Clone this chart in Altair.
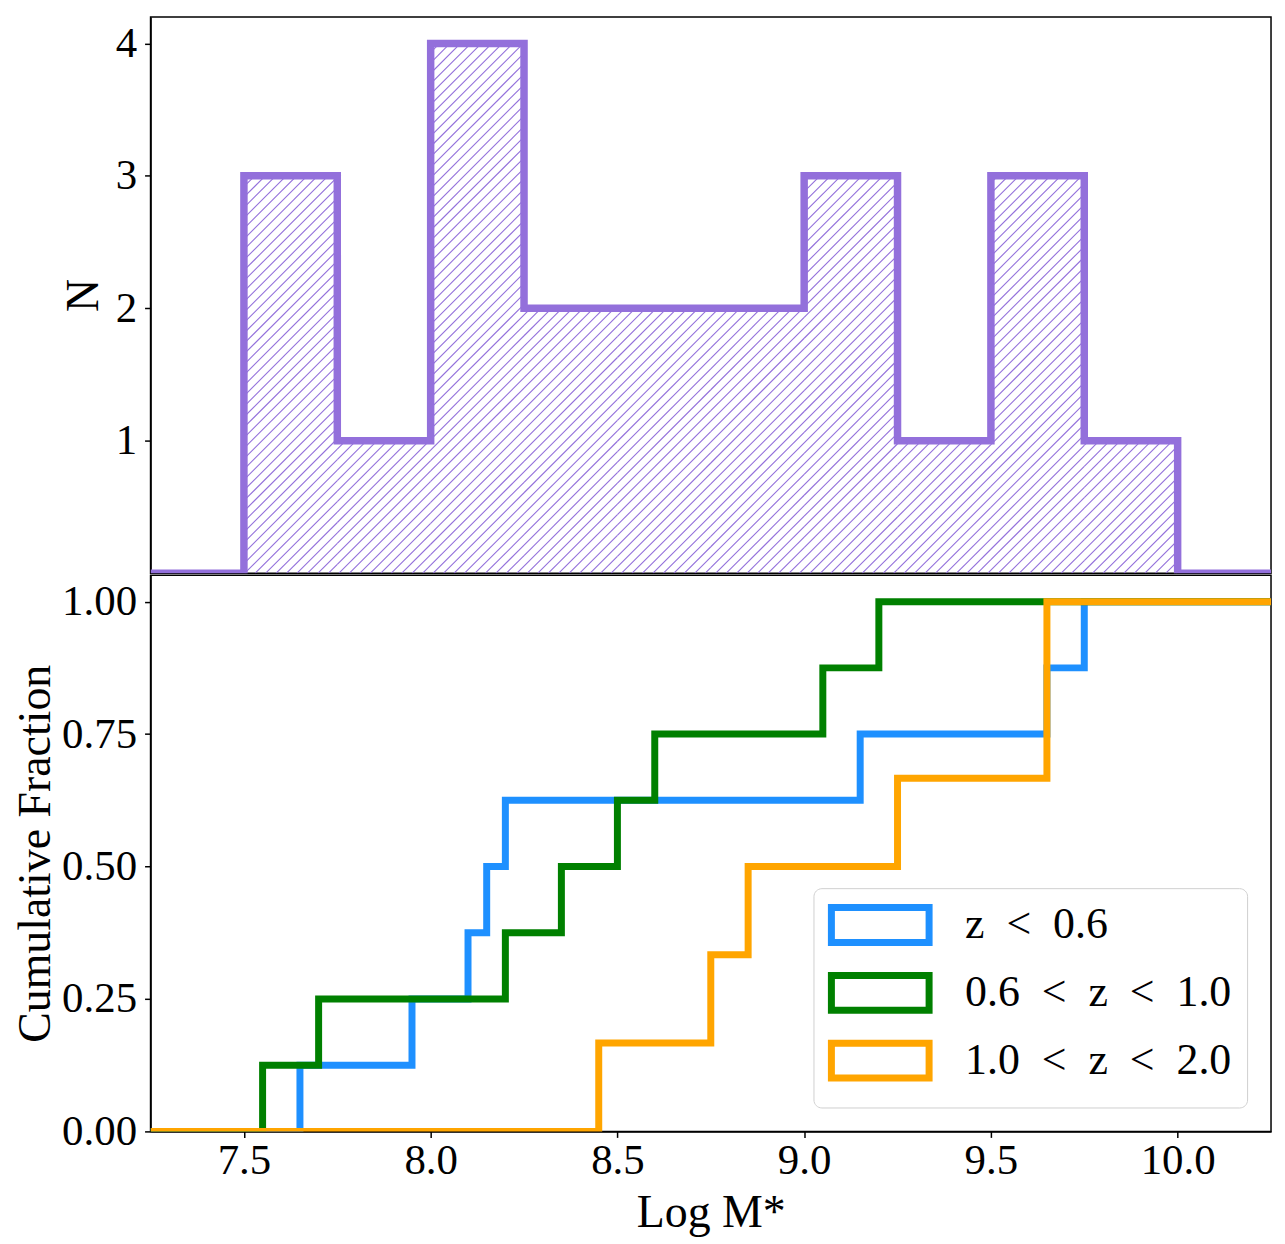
import altair as alt
import pandas as pd

# ---------------- data ----------------
# top panel: histogram of Log M* (bin edges and counts)
bin_edges = [7.25, 7.5, 7.75, 8.0, 8.25, 8.5, 8.75, 9.0, 9.25, 9.5, 9.75, 10.0, 10.25]
bin_counts = [0, 3, 1, 4, 2, 2, 2, 3, 1, 3, 1, 0]

# bottom panel: masses of each redshift group (cumulative fractions)
series_labels = ["z\u2002<\u20020.6", "0.6\u2002<\u2002z\u2002<\u20021.0", "1.0\u2002<\u2002z\u2002<\u20022.0"]
mass_low = [7.65, 7.95, 8.10, 8.15, 8.20, 9.15, 9.65, 9.75]
mass_mid = [7.55, 7.70, 8.20, 8.35, 8.50, 8.60, 9.05, 9.20]
mass_high = [8.45, 8.75, 8.85, 9.25, 9.65, 9.65]
series_colors = ["#1E90FF", "#008000", "#FFA500"]
hist_color = "#9370DB"

x_min, x_max = 7.25, 10.25
y_top_max = 4.2
y_bot_max = 1.05

W = 1124
H_TOP = 558
H_BOT = 558
FONT = "Liberation Serif"

# ---------------- top panel ----------------
hist_df = pd.DataFrame({
    "x": bin_edges,
    "n": bin_counts + [bin_counts[-1]],
})

# hatch pattern ("///") clipped to each bar, derived from the counts
sx = W / (x_max - x_min)
sy = H_TOP / y_top_max
spacing = 10.5
rows = []
for i, h in enumerate(bin_counts):
    if h <= 0:
        continue
    X0 = (bin_edges[i] - x_min) * sx
    X1 = (bin_edges[i + 1] - x_min) * sx
    Hp = h * sy
    k_lo = int((X0 - Hp) // spacing) - 1
    k_hi = int(X1 // spacing) + 1
    for k in range(k_lo, k_hi + 1):
        c = k * spacing
        xa = max(X0, c)
        xb = min(X1, c + Hp)
        if xb - xa > 0.5:
            rows.append({
                "x": x_min + xa / sx, "y": (xa - c) / sy,
                "x2": x_min + xb / sx, "y2": (xb - c) / sy,
            })
hatch_df = pd.DataFrame(rows)

xscale = alt.Scale(domain=[x_min, x_max], nice=False, zero=False)
yscale_top = alt.Scale(domain=[0, y_top_max], nice=False)

hatch = alt.Chart(hatch_df).mark_rule(color=hist_color, strokeWidth=1.1, clip=True).encode(
    x=alt.X("x:Q", scale=xscale, axis=None),
    y=alt.Y("y:Q", scale=yscale_top),
    x2="x2:Q",
    y2="y2:Q",
)

outline = alt.Chart(hist_df).mark_line(
    interpolate="step-after", color=hist_color, strokeWidth=7.5, clip=True,
    strokeJoin="miter",
).encode(
    x=alt.X("x:Q", scale=xscale, axis=None),
    y=alt.Y("n:Q", scale=yscale_top,
            axis=alt.Axis(title="N", values=[1, 2, 3, 4], format="d", titlePadding=8)),
)

top = alt.layer(hatch, outline).properties(width=W, height=H_TOP)

# ---------------- bottom panel ----------------
def cum_df(vals, label):
    vals = sorted(vals)
    n = len(vals)
    xs = [x_min] + vals + [x_max]
    ys = [0.0] + [(i + 1) / n for i in range(n)] + [1.0]
    return pd.DataFrame({"x": xs, "frac": ys, "idx": list(range(len(xs))), "series": label})

color_scale = alt.Scale(domain=series_labels, range=series_colors)
legend = alt.Legend(
    title=None, orient="bottom-right", offset=24,
    symbolType="M-2.8,-1H2.8V1H-2.8Z", symbolSize=1225, symbolStrokeWidth=7,
    symbolFillColor="white", symbolOffset=30, labelOffset=63,
    labelFont=FONT, labelFontSize=44, labelColor="black", labelLimit=500,
    rowPadding=4, padding=15,
    fillColor="white", strokeColor="#d0d0d0", cornerRadius=8,
)

layers = []
for vals, lab in zip([mass_low, mass_mid, mass_high], series_labels):
    layers.append(
        alt.Chart(cum_df(vals, lab)).mark_line(
            interpolate="step-after", strokeWidth=7, clip=True, strokeJoin="miter"
        ).encode(
            x=alt.X("x:Q", scale=xscale,
                    axis=alt.Axis(title="Log M*", values=[7.5, 8.0, 8.5, 9.0, 9.5, 10.0],
                                  format=".1f", labelPadding=2, titlePadding=8)),
            y=alt.Y("frac:Q", scale=alt.Scale(domain=[0, y_bot_max], nice=False),
                    axis=alt.Axis(title="Cumulative Fraction",
                                  values=[0, 0.25, 0.5, 0.75, 1.0], format=".2f",
                                  titlePadding=2)),
            color=alt.Color("series:N", scale=color_scale, legend=legend),
            order="idx:Q",
        )
    )

bottom = alt.layer(*layers).properties(width=W, height=H_BOT)

chart = alt.vconcat(top, bottom, spacing=0).resolve_legend(
    color="independent"
).resolve_scale(color="independent").properties(
    padding={"left": 4, "top": 6, "right": 5, "bottom": 5}
).configure_view(
    stroke="black", strokeWidth=1.5
).configure_axis(
    labelFont=FONT, titleFont=FONT, labelFontSize=43, titleFontSize=46,
    titleFontWeight="normal", labelColor="black", titleColor="black",
    tickColor="black", domainColor="black", grid=False, tickSize=6,
    tickWidth=1.5, domainWidth=1.5, labelPadding=8,
)

chart.save("out.html", embed_options={"renderer": "svg", "actions": False})
